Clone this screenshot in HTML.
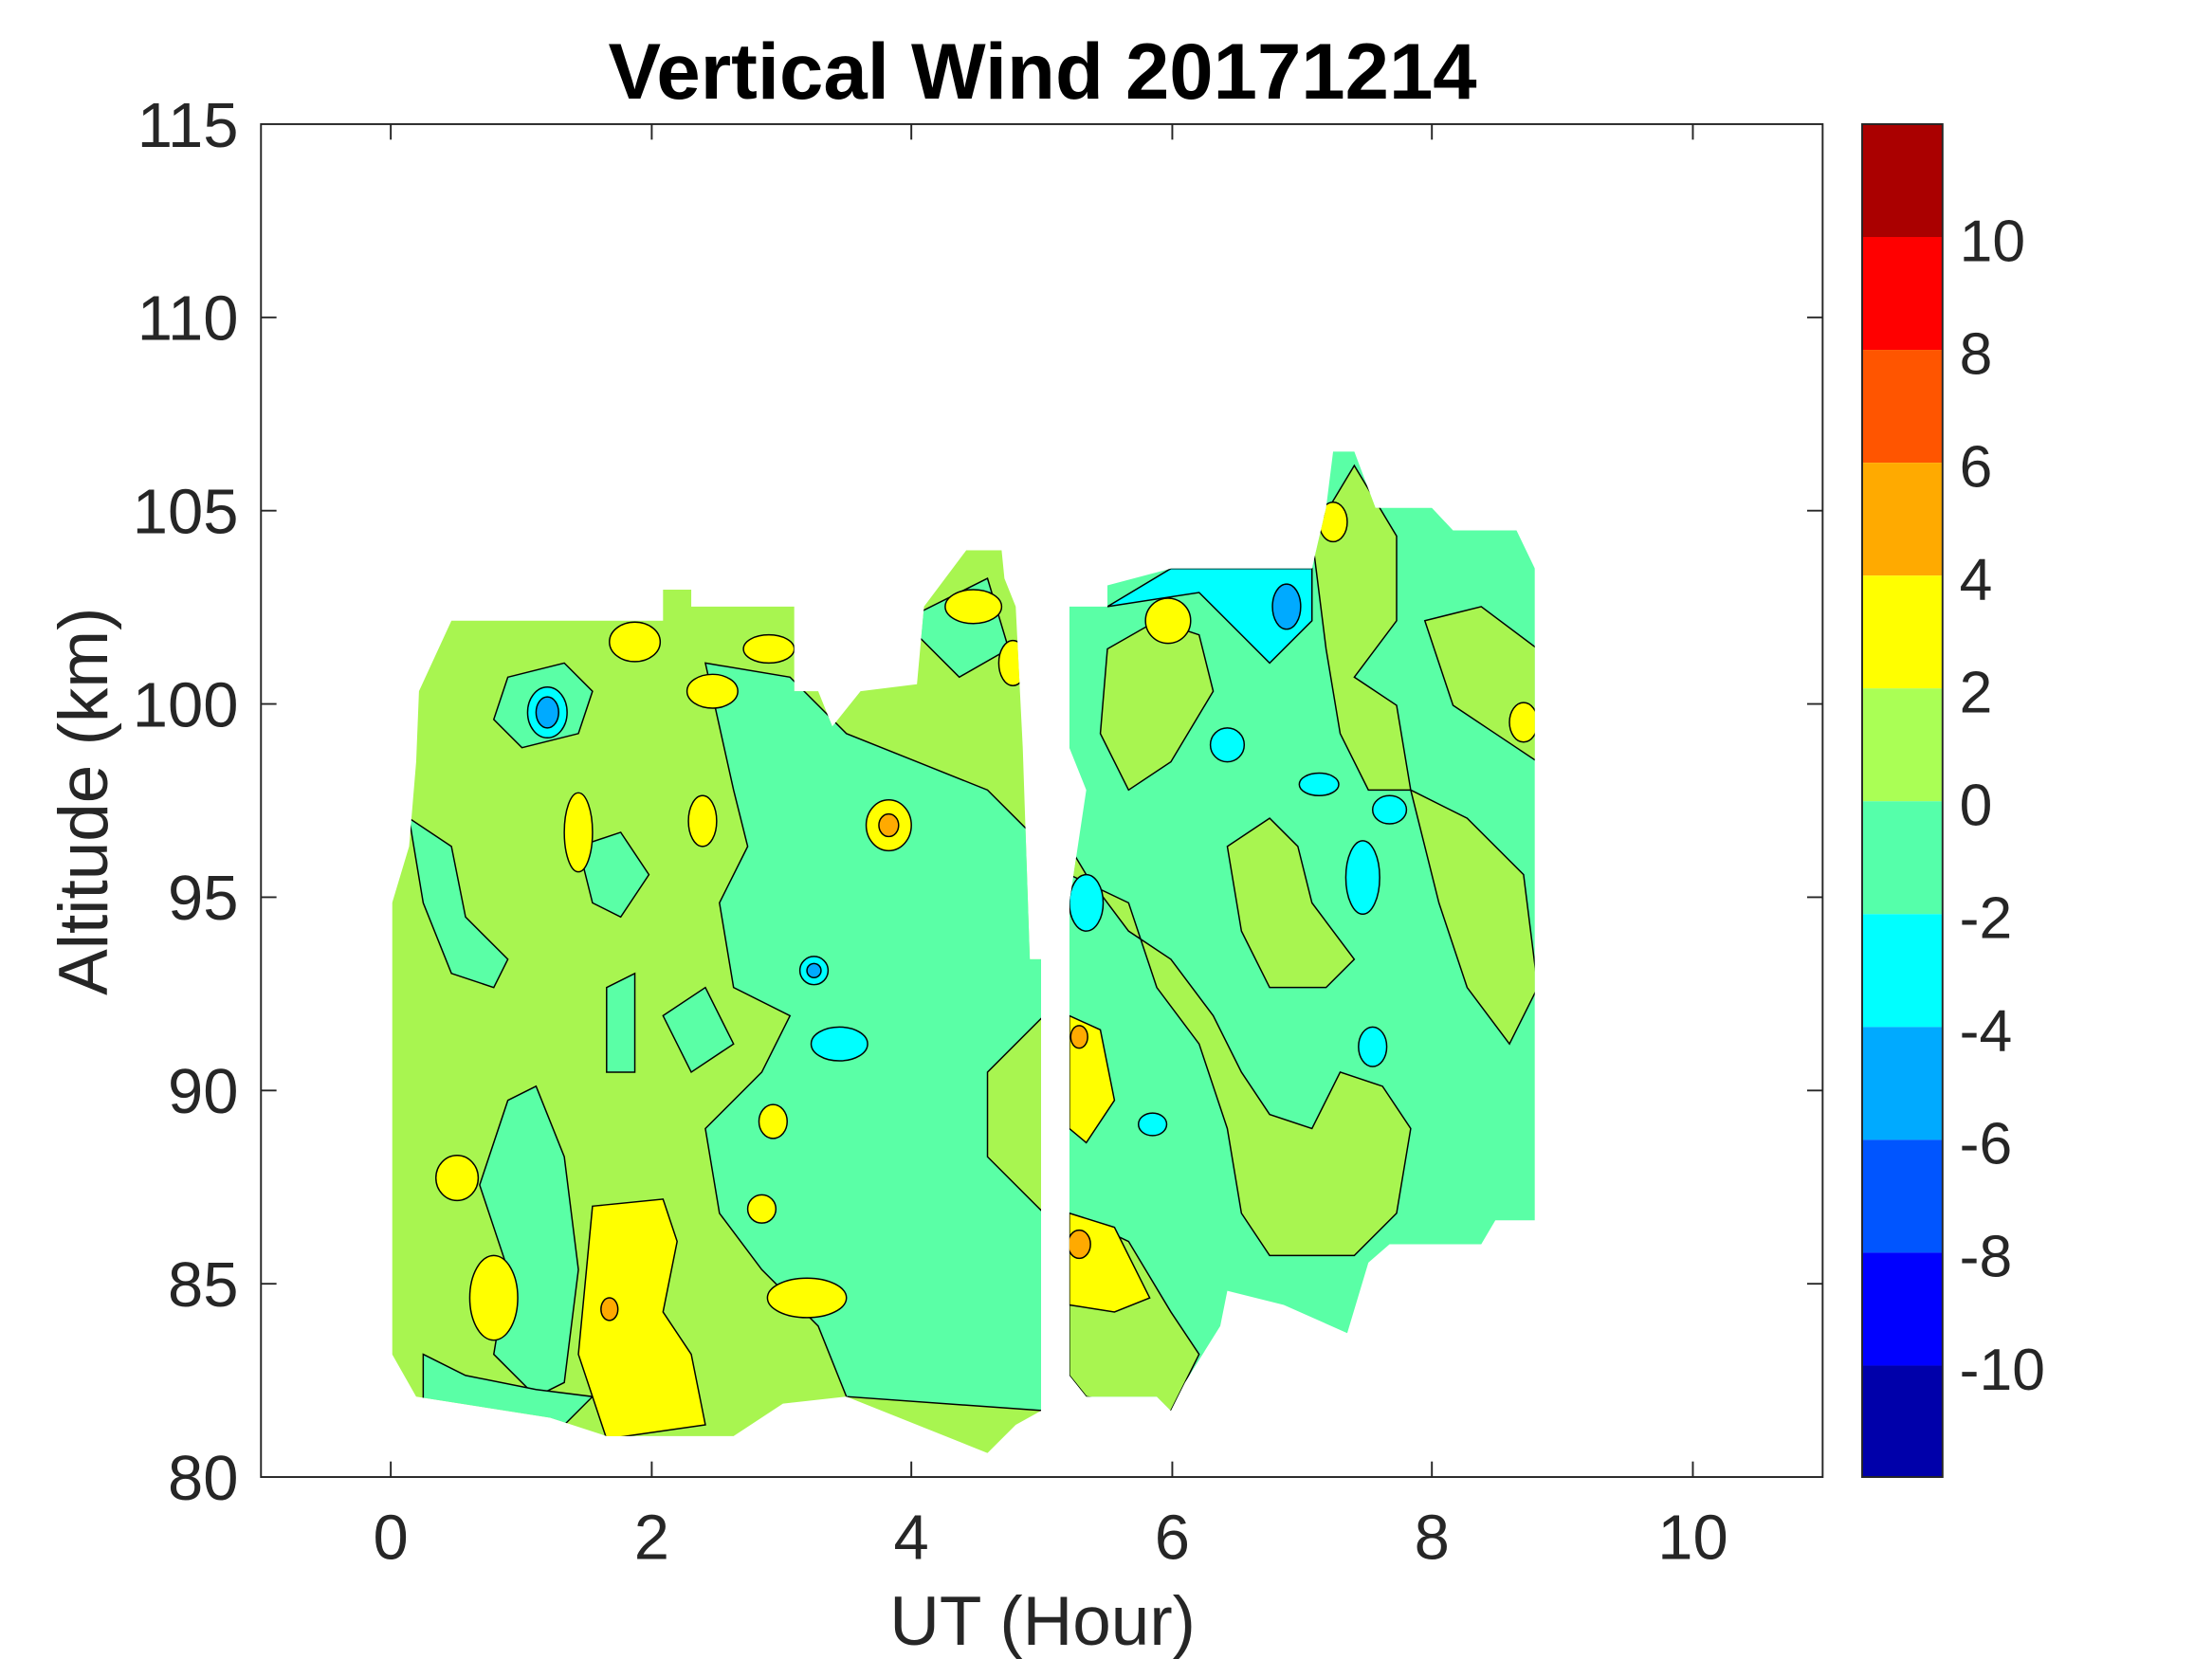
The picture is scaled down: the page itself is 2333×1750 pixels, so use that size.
<!DOCTYPE html>
<html><head><meta charset="utf-8"><style>
html,body{margin:0;padding:0;background:#fff;}
svg{display:block;}
text{font-family:"Liberation Sans",Arial,sans-serif;fill:#262626;}
</style></head><body>
<svg width="2333" height="1750" viewBox="0 0 1568 1176" preserveAspectRatio="none" xmlns="http://www.w3.org/2000/svg">
<rect width="1568" height="1176" fill="#fff"/>
<defs>
<clipPath id="L"><polygon points="297,490 320,440 470,440 470,418 490,418 490,430 563,430 563,490 580,490 590,515 610,490 650,485 655,430 685,390 710,390 712,410 720,430 725,530 730,680 738,680 738,1000 720,1010 700,1030 600,990 555,995 520,1018 430,1018 390,1005 295,990 278,960 278,640 290,600 295,540"/></clipPath>
<clipPath id="R"><polygon points="758,430 785,430 785,415 830,403 930,403 940,360 945,320 960,320 975,360 1015,360 1030,376 1075,376 1088,403 1088,865 1060,865 1050,882 985,882 970,895 955,945 910,925 870,915 865,940 840,980 830,1000 820,990 770,990 758,975 758,640 770,560 758,530"/></clipPath>
</defs>
<g clip-path="url(#L)" stroke="#000" stroke-width="1">
<rect x="270" y="380" width="480" height="660" fill="#a8f550" stroke="none"/>
<polygon fill="#5affa6" points="500,470 560,480 600,520 650,540 700,560 740,600 740,720 700,760 700,820 740,860 740,1000 600,990 580,940 540,900 510,860 500,800 540,760 560,720 520,700 510,640 530,600 520,560" />
<polygon fill="#5affa6" points="290,580 320,600 330,650 360,680 350,700 320,690 300,640" />
<polygon fill="#5affa6" points="340,840 360,780 380,770 400,820 410,900 400,980 380,990 350,960 360,900" />
<polygon fill="#5affa6" points="300,960 330,975 380,985 420,990 400,1010 300,1000" />
<polygon fill="#5affa6" points="410,600 440,590 460,620 440,650 420,640" />
<polygon fill="#5affa6" points="360,480 400,470 420,490 410,520 370,530 350,510" />
<polygon fill="#5affa6" points="640,440 700,410 715,460 680,480" />
<polygon fill="#5affa6" points="470,720 500,700 520,740 490,760" />
<polygon fill="#5affa6" points="430,700 450,690 450,760 430,760" />
<ellipse cx="388" cy="505" rx="14" ry="18" fill="#00ffff"/>
<ellipse cx="388" cy="505" rx="8" ry="11" fill="#00aaff"/>
<ellipse cx="595" cy="740" rx="20" ry="12" fill="#00ffff"/>
<ellipse cx="577" cy="688" rx="10" ry="10" fill="#00ffff"/>
<ellipse cx="577" cy="688" rx="5" ry="5" fill="#00aaff"/>
<polygon fill="#ffff00" points="420,855 470,850 480,880 470,930 490,960 500,1010 430,1020 410,960" />
<ellipse cx="432" cy="928" rx="6" ry="8" fill="#ffaa00"/>
<ellipse cx="350" cy="920" rx="17" ry="30" fill="#ffff00"/>
<ellipse cx="324" cy="835" rx="15" ry="16" fill="#ffff00"/>
<ellipse cx="572" cy="920" rx="28" ry="14" fill="#ffff00"/>
<ellipse cx="410" cy="590" rx="10" ry="28" fill="#ffff00"/>
<ellipse cx="498" cy="582" rx="10" ry="18" fill="#ffff00"/>
<ellipse cx="505" cy="490" rx="18" ry="12" fill="#ffff00"/>
<ellipse cx="630" cy="585" rx="16" ry="18" fill="#ffff00"/>
<ellipse cx="630" cy="585" rx="7" ry="8" fill="#ffaa00"/>
<ellipse cx="545" cy="460" rx="18" ry="10" fill="#ffff00"/>
<ellipse cx="450" cy="455" rx="18" ry="14" fill="#ffff00"/>
<ellipse cx="548" cy="795" rx="10" ry="12" fill="#ffff00"/>
<ellipse cx="540" cy="857" rx="10" ry="10" fill="#ffff00"/>
<ellipse cx="690" cy="430" rx="20" ry="12" fill="#ffff00"/>
<ellipse cx="718" cy="470" rx="10" ry="16" fill="#ffff00"/>
</g>
<g clip-path="url(#R)" stroke="#000" stroke-width="1">
<rect x="750" y="300" width="350" height="710" fill="#5affa6" stroke="none"/>
<polygon fill="#a8f550" points="758,620 800,640 820,700 850,740 870,800 880,860 900,890 960,890 990,860 1000,800 980,770 950,760 930,800 900,790 880,760 860,720 830,680 800,660 770,620 758,600" />
<polygon fill="#a8f550" points="758,860 800,880 830,930 850,960 830,1000 770,990 758,975" />
<polygon fill="#a8f550" points="870,600 900,580 920,600 930,640 960,680 940,700 900,700 880,660" />
<polygon fill="#a8f550" points="930,380 960,330 990,380 990,440 960,480 990,500 1000,560 970,560 950,520 940,460" />
<polygon fill="#a8f550" points="1000,560 1040,580 1080,620 1090,700 1070,740 1040,700 1020,640" />
<polygon fill="#a8f550" points="1010,440 1050,430 1090,460 1090,540 1060,520 1030,500" />
<polygon fill="#a8f550" points="785,460 820,440 850,450 860,490 830,540 800,560 780,520" />
<polygon fill="#ffff00" points="758,720 780,730 790,780 770,810 758,800" />
<polygon fill="#ffff00" points="758,860 790,870 815,920 790,930 758,925" />
<ellipse cx="765" cy="882" rx="8" ry="10" fill="#ffaa00"/>
<ellipse cx="765" cy="735" rx="6" ry="8" fill="#ffaa00"/>
<ellipse cx="828" cy="440" rx="16" ry="16" fill="#ffff00"/>
<ellipse cx="945" cy="370" rx="10" ry="14" fill="#ffff00"/>
<polygon fill="#00ffff" points="785,430 830,403 930,403 930,440 900,470 880,450 850,420" />
<ellipse cx="912" cy="430" rx="10" ry="16" fill="#00aaff"/>
<ellipse cx="770" cy="640" rx="12" ry="20" fill="#00ffff"/>
<ellipse cx="966" cy="622" rx="12" ry="26" fill="#00ffff"/>
<ellipse cx="973" cy="742" rx="10" ry="14" fill="#00ffff"/>
<ellipse cx="985" cy="574" rx="12" ry="10" fill="#00ffff"/>
<ellipse cx="935" cy="556" rx="14" ry="8" fill="#00ffff"/>
<ellipse cx="870" cy="528" rx="12" ry="12" fill="#00ffff"/>
<ellipse cx="817" cy="797" rx="10" ry="8" fill="#00ffff"/>
<ellipse cx="1080" cy="512" rx="10" ry="14" fill="#ffff00"/>
</g>
<!-- axes -->
<rect x="185" y="88" width="1107" height="959" fill="none" stroke="#262626" stroke-width="1.3"/>
<g stroke="#262626" stroke-width="1.3">
<line x1="277" y1="1047" x2="277" y2="1036"/><line x1="462" y1="1047" x2="462" y2="1036"/><line x1="646" y1="1047" x2="646" y2="1036"/><line x1="831" y1="1047" x2="831" y2="1036"/><line x1="1015" y1="1047" x2="1015" y2="1036"/><line x1="1200" y1="1047" x2="1200" y2="1036"/>
<line x1="277" y1="88" x2="277" y2="99"/><line x1="462" y1="88" x2="462" y2="99"/><line x1="646" y1="88" x2="646" y2="99"/><line x1="831" y1="88" x2="831" y2="99"/><line x1="1015" y1="88" x2="1015" y2="99"/><line x1="1200" y1="88" x2="1200" y2="99"/>
<line x1="185" y1="910" x2="196" y2="910"/><line x1="185" y1="773" x2="196" y2="773"/><line x1="185" y1="636" x2="196" y2="636"/><line x1="185" y1="499" x2="196" y2="499"/><line x1="185" y1="362" x2="196" y2="362"/><line x1="185" y1="225" x2="196" y2="225"/>
<line x1="1292" y1="910" x2="1281" y2="910"/><line x1="1292" y1="773" x2="1281" y2="773"/><line x1="1292" y1="636" x2="1281" y2="636"/><line x1="1292" y1="499" x2="1281" y2="499"/><line x1="1292" y1="362" x2="1281" y2="362"/><line x1="1292" y1="225" x2="1281" y2="225"/>
</g>
<g font-size="45" text-anchor="middle">
<text x="277" y="1105">0</text><text x="462" y="1105">2</text><text x="646" y="1105">4</text><text x="831" y="1105">6</text><text x="1015" y="1105">8</text><text x="1200" y="1105">10</text>
</g>
<g font-size="45" text-anchor="end">
<text x="169" y="1063">80</text><text x="169" y="926">85</text><text x="169" y="789">90</text><text x="169" y="652">95</text><text x="169" y="515">100</text><text x="169" y="378">105</text><text x="169" y="241">110</text><text x="169" y="104">115</text>
</g>
<text x="739" y="1166" font-size="49" text-anchor="middle">UT (Hour)</text>
<text transform="translate(76,568) rotate(-90)" font-size="49" text-anchor="middle">Altitude (km)</text>
<text x="739" y="70" font-size="56" font-weight="bold" text-anchor="middle" style="fill:#000">Vertical Wind 20171214</text>
<!-- colorbar -->
<g>
<rect x="1320" y="88" width="57" height="80" fill="#aa0000"/>
<rect x="1320" y="168" width="57" height="80" fill="#ff0000"/>
<rect x="1320" y="248" width="57" height="80" fill="#ff5500"/>
<rect x="1320" y="328" width="57" height="80" fill="#ffaa00"/>
<rect x="1320" y="408" width="57" height="80" fill="#ffff00"/>
<rect x="1320" y="488" width="57" height="80" fill="#aaff55"/>
<rect x="1320" y="568" width="57" height="80" fill="#55ffaa"/>
<rect x="1320" y="648" width="57" height="80" fill="#00ffff"/>
<rect x="1320" y="728" width="57" height="80" fill="#00aaff"/>
<rect x="1320" y="808" width="57" height="80" fill="#0055ff"/>
<rect x="1320" y="888" width="57" height="80" fill="#0000ff"/>
<rect x="1320" y="968" width="57" height="79" fill="#0000aa"/>
<rect x="1320" y="88" width="57" height="959" fill="none" stroke="#262626" stroke-width="1.3"/>
</g>
<g font-size="42">
<text x="1389" y="185">10</text><text x="1389" y="265">8</text><text x="1389" y="345">6</text><text x="1389" y="425">4</text><text x="1389" y="505">2</text><text x="1389" y="585">0</text><text x="1389" y="665">-2</text><text x="1389" y="745">-4</text><text x="1389" y="825">-6</text><text x="1389" y="905">-8</text><text x="1389" y="985">-10</text>
</g>
</svg>
</body></html>
